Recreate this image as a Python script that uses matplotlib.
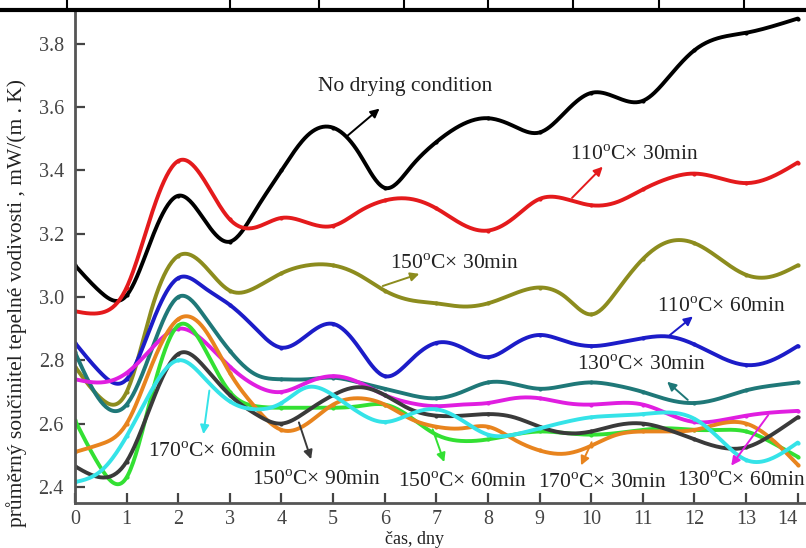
import numpy as np
import matplotlib
matplotlib.use('Agg')
import matplotlib.pyplot as plt
from matplotlib.lines import Line2D

plt.rcParams['font.family'] = ['Liberation Serif', 'DejaVu Serif']
plt.rcParams['mathtext.fontset'] = 'custom'
plt.rcParams['mathtext.rm'] = 'Liberation Serif'

# čas (dny) – odečteno po půl dni
days = np.arange(0, 14.01, 0.5)

no_drying = [3.10, 3.015, 3.005, 3.19, 3.32, 3.245, 3.175, 3.275, 3.40, 3.51, 3.535, 3.455, 3.345, 3.41, 3.49,
             3.545, 3.565, 3.54, 3.52, 3.585, 3.645, 3.63, 3.62, 3.695, 3.78, 3.82, 3.835, 3.855, 3.88]
c110_30 = [2.955, 2.95, 3.03, 3.27, 3.43, 3.37, 3.245, 3.22, 3.25, 3.235, 3.225, 3.27, 3.305, 3.31, 3.28,
           3.23, 3.21, 3.25, 3.31, 3.31, 3.29, 3.30, 3.34, 3.375, 3.39, 3.375, 3.36, 3.38, 3.425]
c150_30 = [2.78, 2.68, 2.70, 2.97, 3.13, 3.10, 3.02, 3.03, 3.075, 3.10, 3.10, 3.07, 3.02, 2.99, 2.98,
           2.97, 2.98, 3.01, 3.03, 3.00, 2.945, 3.02, 3.12, 3.175, 3.17, 3.12, 3.07, 3.065, 3.10]
c110_60 = [2.855, 2.76, 2.74, 2.92, 3.06, 3.03, 2.975, 2.90, 2.84, 2.88, 2.915, 2.84, 2.75, 2.80, 2.855,
           2.84, 2.81, 2.85, 2.88, 2.86, 2.845, 2.855, 2.87, 2.875, 2.85, 2.81, 2.785, 2.80, 2.845]
c130_30 = [2.825, 2.67, 2.66, 2.84, 3.00, 2.94, 2.83, 2.755, 2.74, 2.74, 2.745, 2.73, 2.71, 2.69, 2.68,
           2.70, 2.73, 2.725, 2.71, 2.72, 2.73, 2.72, 2.70, 2.675, 2.665, 2.68, 2.705, 2.72, 2.73]
c130_60 = [2.74, 2.73, 2.76, 2.84, 2.90, 2.86, 2.78, 2.72, 2.70, 2.73, 2.75, 2.73, 2.69, 2.665, 2.655,
           2.66, 2.665, 2.68, 2.68, 2.665, 2.66, 2.665, 2.66, 2.63, 2.605, 2.61, 2.625, 2.635, 2.64]
c150_60 = [2.61, 2.46, 2.43, 2.70, 2.91, 2.84, 2.70, 2.655, 2.65, 2.65, 2.65, 2.655, 2.66, 2.62, 2.565,
           2.545, 2.55, 2.565, 2.575, 2.57, 2.565, 2.57, 2.58, 2.585, 2.58, 2.58, 2.575, 2.54, 2.495]
c170_30 = [2.51, 2.535, 2.60, 2.79, 2.93, 2.90, 2.76, 2.65, 2.58, 2.60, 2.66, 2.68, 2.66, 2.615, 2.59,
           2.585, 2.59, 2.55, 2.515, 2.505, 2.53, 2.565, 2.575, 2.575, 2.58, 2.60, 2.60, 2.55, 2.47]
c150_90 = [2.465, 2.43, 2.48, 2.67, 2.82, 2.78, 2.69, 2.63, 2.60, 2.64, 2.69, 2.715, 2.69, 2.645, 2.625,
           2.625, 2.63, 2.62, 2.59, 2.57, 2.575, 2.595, 2.60, 2.58, 2.55, 2.525, 2.525, 2.565, 2.62]
c170_60 = [2.415, 2.45, 2.56, 2.71, 2.80, 2.745, 2.67, 2.645, 2.665, 2.715, 2.69, 2.635, 2.605, 2.63, 2.645,
           2.61, 2.565, 2.565, 2.585, 2.605, 2.62, 2.625, 2.63, 2.635, 2.615, 2.55, 2.485, 2.49, 2.54]

series = [
    (no_drying, '#000000'),
    (c110_30, '#e41a1c'),
    (c150_30, '#8c8c1e'),
    (c110_60, '#1c1cc8'),
    (c130_30, '#1f7878'),
    (c130_60, '#e01ee0'),
    (c150_60, '#33e033'),
    (c170_30, '#e8841e'),
    (c150_90, '#3a3a3a'),
    (c170_60, '#35e3e8'),
]

# popisky: text, pozice textu, konec sipky, zacatek sipky, barva
labels = [
    ('No drying condition', (4.71, 3.664), (5.94, 3.601), (5.23, 3.503), '#000000'),
    ('110$^{\\rm o}$C× 30min', (9.59, 3.449), (10.26, 3.418), (9.59, 3.307), '#e41a1c'),
    ('150$^{\\rm o}$C× 30min', (6.10, 3.102), (6.72, 3.076), (5.91, 3.032), '#8c8c1e'),
    ('110$^{\\rm o}$C× 60min', (11.27, 2.969), (12.01, 2.944), (11.48, 2.874), '#1c1cc8'),
    ('130$^{\\rm o}$C× 30min', (9.72, 2.783), (11.43, 2.738), (11.91, 2.669), '#1f7878'),
    ('170$^{\\rm o}$C× 60min', (1.41, 2.508), (2.48, 2.558), (2.61, 2.713), '#35e3e8'),
    ('150$^{\\rm o}$C× 90min', (3.43, 2.422), (4.59, 2.479), (4.32, 2.612), '#3a3a3a'),
    ('150$^{\\rm o}$C× 60min', (6.25, 2.413), (7.17, 2.470), (6.91, 2.590), '#33e033'),
    ('170$^{\\rm o}$C× 30min', (8.97, 2.410), (9.78, 2.460), (10.03, 2.549), '#e8841e'),
    ('130$^{\\rm o}$C× 60min', (11.66, 2.416), (12.68, 2.460), (13.46, 2.634), '#e01ee0'),
]


def smooth(x, y, n=20):
    # prirozeny kubicky spline jen pro hladke vykresleni
    x = np.asarray(x, float)
    y = np.asarray(y, float)
    m = len(x)
    h = np.diff(x)
    A = np.zeros((m, m))
    b = np.zeros(m)
    A[0, 0] = A[-1, -1] = 1
    for i in range(1, m - 1):
        A[i, i - 1] = h[i - 1]
        A[i, i] = 2 * (h[i - 1] + h[i])
        A[i, i + 1] = h[i]
        b[i] = 6 * ((y[i + 1] - y[i]) / h[i] - (y[i] - y[i - 1]) / h[i - 1])
    M = np.linalg.solve(A, b)
    xs, ys = [], []
    for i in range(m - 1):
        t = np.linspace(x[i], x[i + 1], n, endpoint=False)
        a = x[i + 1] - t
        c = t - x[i]
        s = (M[i] * a ** 3 + M[i + 1] * c ** 3) / (6 * h[i]) \
            + (y[i] / h[i] - M[i] * h[i] / 6) * a + (y[i + 1] / h[i] - M[i + 1] * h[i] / 6) * c
        xs.append(t)
        ys.append(s)
    xs.append([x[-1]])
    ys.append([y[-1]])
    return np.concatenate(xs), np.concatenate(ys)


fig = plt.figure(figsize=(8.06, 5.48), dpi=100)
ax = fig.add_axes([75 / 806, 45 / 548, 731 / 806, 493 / 548])

for vals, col in series:
    xs, ys = smooth(days, vals)
    ax.plot(xs, ys, color=col, lw=2.8, solid_capstyle='round', zorder=2)
    ax.plot(days[::2], np.asarray(vals)[::2], ls='none', marker='o', ms=2, color=col, zorder=2)

for txt, xy_t, head, tail, col in labels:
    ax.text(xy_t[0], xy_t[1], txt, fontsize=15.5, color='#222222', va='center', ha='left', zorder=4)
    ax.annotate('', xy=head, xytext=tail,
                arrowprops=dict(arrowstyle='-|>', color=col, lw=1.4, mutation_scale=13), zorder=3)

ax.set_xlim(0, 14.16)
ax.set_ylim(2.349, 3.907)
ax.set_xticks(range(0, 15))
ax.set_yticks(np.arange(2.4, 3.81, 0.2))
ax.set_yticklabels(['%.1f' % v for v in np.arange(2.4, 3.81, 0.2)])
ax.tick_params(direction='in', length=7, width=1.6, colors='#444444', labelsize=14.5, pad=5)
ax.tick_params(axis='y', pad=8)
xt = ax.get_xticklabels()
xt[-1].set_horizontalalignment('right')
for sp in ['top', 'right']:
    ax.spines[sp].set_visible(False)
for sp in ['left', 'bottom']:
    ax.spines[sp].set_color('#555555')
    ax.spines[sp].set_linewidth(2)

ax.set_ylabel('průměrný součinitel tepelné vodivosti , mW/(m . K)', fontsize=15.5, color='#222222')
ax.yaxis.set_label_coords(-0.066, 0.405)
ax.set_xlabel('čas, dny', fontsize=13, color='#222222')
ax.xaxis.set_label_coords(0.465, -0.056)

# horni pruh tabulky
fig.add_artist(Line2D([0, 1], [1 - 10 / 548, 1 - 10 / 548], color='black', lw=3, transform=fig.transFigure))
for xp in [67, 230, 319, 404, 488, 573, 659, 744]:
    fig.add_artist(Line2D([xp / 806, xp / 806], [1 - 10 / 548, 1], color='black', lw=1.5,
                          transform=fig.transFigure))

fig.savefig('out.png', dpi=100)
